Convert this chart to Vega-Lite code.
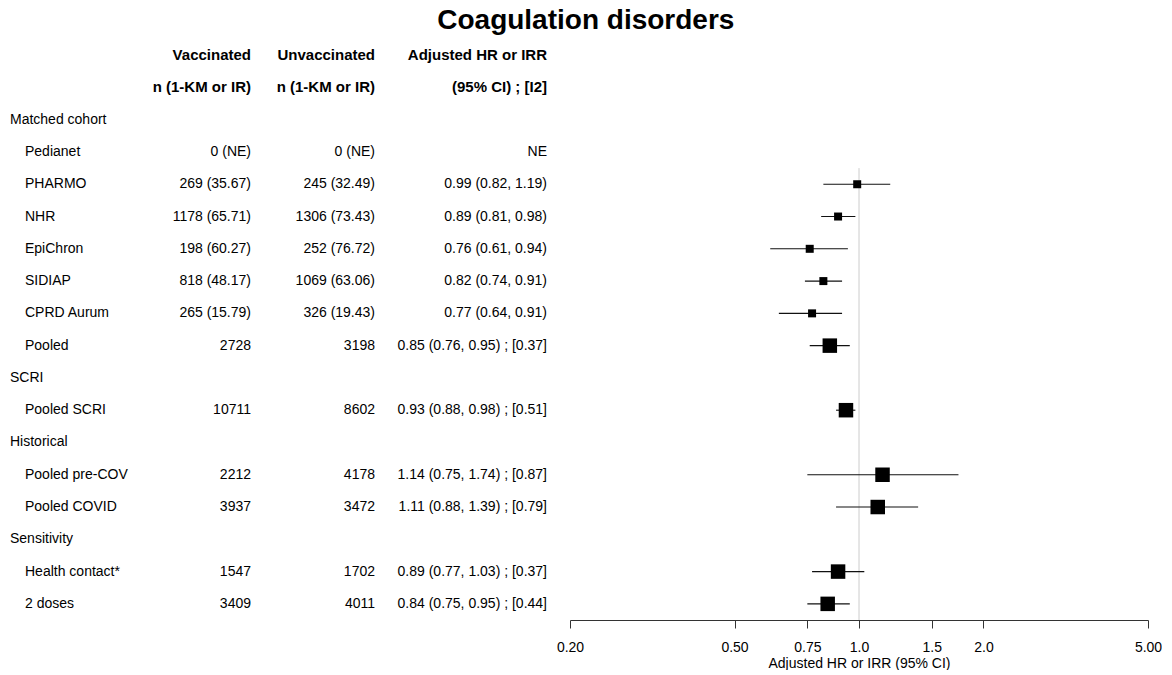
{
  "$schema": "https://vega.github.io/schema/vega-lite/v6.json",
  "title": {
    "text": "Coagulation disorders",
    "fontSize": 28,
    "fontWeight": "bold",
    "font": "Liberation Sans",
    "color": "#000000",
    "anchor": "middle",
    "offset": 4
  },
  "padding": {"left": 10, "top": 7, "right": 0, "bottom": 0},
  "background": "#ffffff",
  "bounds": "flush",
  "spacing": 0,
  "config": {
    "view": {"stroke": null},
    "font": "Liberation Sans",
    "text": {"font": "Liberation Sans", "fontSize": 14, "color": "#000000", "baseline": "middle"}
  },
  "datasets": {
    "rows": [
      {"row": 0, "label": null, "level": "header", "vacc": "Vaccinated", "unvacc": "Unvaccinated", "est": "Adjusted HR or IRR", "hr": null, "lo": null, "hi": null, "kind": null},
      {"row": 1, "label": null, "level": "header", "vacc": "n (1-KM or IR)", "unvacc": "n (1-KM or IR)", "est": "(95% CI) ; [I2]", "hr": null, "lo": null, "hi": null, "kind": null},
      {"row": 2, "label": "Matched cohort", "level": "section", "vacc": null, "unvacc": null, "est": null, "hr": null, "lo": null, "hi": null, "kind": null},
      {"row": 3, "label": "Pedianet", "level": "item", "vacc": "0 (NE)", "unvacc": "0 (NE)", "est": "NE", "hr": null, "lo": null, "hi": null, "kind": "study"},
      {"row": 4, "label": "PHARMO", "level": "item", "vacc": "269 (35.67)", "unvacc": "245 (32.49)", "est": "0.99 (0.82, 1.19)", "hr": 0.99, "lo": 0.82, "hi": 1.19, "kind": "study"},
      {"row": 5, "label": "NHR", "level": "item", "vacc": "1178 (65.71)", "unvacc": "1306 (73.43)", "est": "0.89 (0.81, 0.98)", "hr": 0.89, "lo": 0.81, "hi": 0.98, "kind": "study"},
      {"row": 6, "label": "EpiChron", "level": "item", "vacc": "198 (60.27)", "unvacc": "252 (76.72)", "est": "0.76 (0.61, 0.94)", "hr": 0.76, "lo": 0.61, "hi": 0.94, "kind": "study"},
      {"row": 7, "label": "SIDIAP", "level": "item", "vacc": "818 (48.17)", "unvacc": "1069 (63.06)", "est": "0.82 (0.74, 0.91)", "hr": 0.82, "lo": 0.74, "hi": 0.91, "kind": "study"},
      {"row": 8, "label": "CPRD Aurum", "level": "item", "vacc": "265 (15.79)", "unvacc": "326 (19.43)", "est": "0.77 (0.64, 0.91)", "hr": 0.77, "lo": 0.64, "hi": 0.91, "kind": "study"},
      {"row": 9, "label": "Pooled", "level": "item", "vacc": "2728", "unvacc": "3198", "est": "0.85 (0.76, 0.95) ; [0.37]", "hr": 0.85, "lo": 0.76, "hi": 0.95, "kind": "pooled"},
      {"row": 10, "label": "SCRI", "level": "section", "vacc": null, "unvacc": null, "est": null, "hr": null, "lo": null, "hi": null, "kind": null},
      {"row": 11, "label": "Pooled SCRI", "level": "item", "vacc": "10711", "unvacc": "8602", "est": "0.93 (0.88, 0.98) ; [0.51]", "hr": 0.93, "lo": 0.88, "hi": 0.98, "kind": "pooled"},
      {"row": 12, "label": "Historical", "level": "section", "vacc": null, "unvacc": null, "est": null, "hr": null, "lo": null, "hi": null, "kind": null},
      {"row": 13, "label": "Pooled pre-COV", "level": "item", "vacc": "2212", "unvacc": "4178", "est": "1.14 (0.75, 1.74) ; [0.87]", "hr": 1.14, "lo": 0.75, "hi": 1.74, "kind": "pooled"},
      {"row": 14, "label": "Pooled COVID", "level": "item", "vacc": "3937", "unvacc": "3472", "est": "1.11 (0.88, 1.39) ; [0.79]", "hr": 1.11, "lo": 0.88, "hi": 1.39, "kind": "pooled"},
      {"row": 15, "label": "Sensitivity", "level": "section", "vacc": null, "unvacc": null, "est": null, "hr": null, "lo": null, "hi": null, "kind": null},
      {"row": 16, "label": "Health contact*", "level": "item", "vacc": "1547", "unvacc": "1702", "est": "0.89 (0.77, 1.03) ; [0.37]", "hr": 0.89, "lo": 0.77, "hi": 1.03, "kind": "pooled"},
      {"row": 17, "label": "2 doses", "level": "item", "vacc": "3409", "unvacc": "4011", "est": "0.84 (0.75, 0.95) ; [0.44]", "hr": 0.84, "lo": 0.75, "hi": 0.95, "kind": "pooled"}
    ],
    "nullLine": [
      {"ratio": 1, "fromRow": 3.5, "toRow": 17.5}
    ]
  },
  "hconcat": [
    {
      "width": 130,
      "height": 581,
      "data": {"name": "rows"},
      "encoding": {
        "y": {"field": "row", "type": "quantitative", "axis": null,
              "scale": {"domain": [-0.5, 17.5], "reverse": true, "nice": false, "zero": false}},
        "x": {"datum": 0, "type": "quantitative", "axis": null, "scale": {"domain": [0, 1]}},
        "text": {"field": "label", "type": "nominal"}
      },
      "layer": [
        {"transform": [{"filter": "datum.level == 'section'"}],
         "mark": {"type": "text", "align": "left"}},
        {"transform": [{"filter": "datum.level == 'item'"}],
         "mark": {"type": "text", "align": "left", "dx": 15}}
      ]
    },
    {
      "width": 111,
      "height": 581,
      "data": {"name": "rows"},
      "transform": [{"filter": "isValid(datum.vacc)"}],
      "encoding": {
        "y": {"field": "row", "type": "quantitative", "axis": null,
              "scale": {"domain": [-0.5, 17.5], "reverse": true, "nice": false, "zero": false}},
        "x": {"datum": 1, "type": "quantitative", "axis": null, "scale": {"domain": [0, 1]}},
        "text": {"field": "vacc", "type": "nominal"}
      },
      "layer": [
        {"transform": [{"filter": "datum.level == 'header'"}],
         "mark": {"type": "text", "align": "right", "fontWeight": "bold", "fontSize": 15}},
        {"transform": [{"filter": "datum.level != 'header'"}],
         "mark": {"type": "text", "align": "right"}}
      ]
    },
    {
      "width": 124,
      "height": 581,
      "data": {"name": "rows"},
      "transform": [{"filter": "isValid(datum.unvacc)"}],
      "encoding": {
        "y": {"field": "row", "type": "quantitative", "axis": null,
              "scale": {"domain": [-0.5, 17.5], "reverse": true, "nice": false, "zero": false}},
        "x": {"datum": 1, "type": "quantitative", "axis": null, "scale": {"domain": [0, 1]}},
        "text": {"field": "unvacc", "type": "nominal"}
      },
      "layer": [
        {"transform": [{"filter": "datum.level == 'header'"}],
         "mark": {"type": "text", "align": "right", "fontWeight": "bold", "fontSize": 15}},
        {"transform": [{"filter": "datum.level != 'header'"}],
         "mark": {"type": "text", "align": "right"}}
      ]
    },
    {
      "width": 195,
      "height": 581,
      "data": {"name": "rows"},
      "transform": [{"filter": "isValid(datum.est)"}],
      "encoding": {
        "y": {"field": "row", "type": "quantitative", "axis": null,
              "scale": {"domain": [-0.5, 17.5], "reverse": true, "nice": false, "zero": false}},
        "x": {"datum": 1, "type": "quantitative", "axis": null, "scale": {"domain": [0, 1]}},
        "text": {"field": "est", "type": "nominal"}
      },
      "layer": [
        {"transform": [{"filter": "datum.level == 'header'"}],
         "mark": {"type": "text", "align": "right", "fontWeight": "bold", "fontSize": 15, "dx": -23}},
        {"transform": [{"filter": "datum.level != 'header'"}],
         "mark": {"type": "text", "align": "right", "dx": -23}}
      ]
    },
    {
      "width": 578,
      "height": 581,
      "layer": [
        {
          "data": {"name": "nullLine"},
          "mark": {"type": "rule", "color": "#cccccc", "strokeWidth": 1},
          "encoding": {
            "x": {"field": "ratio", "type": "quantitative"},
            "y": {"field": "fromRow", "type": "quantitative"},
            "y2": {"field": "toRow"}
          }
        },
        {
          "data": {"name": "rows"},
          "transform": [{"filter": "isValid(datum.hr)"}],
          "mark": {"type": "rule", "color": "#111111", "strokeWidth": 1.1},
          "encoding": {
            "x": {"field": "lo", "type": "quantitative"},
            "x2": {"field": "hi"},
            "y": {"field": "row", "type": "quantitative"}
          }
        },
        {
          "data": {"name": "rows"},
          "transform": [{"filter": "isValid(datum.hr)"}],
          "mark": {"type": "point", "shape": "square", "filled": true, "color": "#000000", "opacity": 1},
          "encoding": {
            "x": {"field": "hr", "type": "quantitative"},
            "y": {"field": "row", "type": "quantitative"},
            "size": {"field": "kind", "type": "nominal", "legend": null,
                     "scale": {"domain": ["study", "pooled"], "range": [64, 210]}}
          }
        }
      ],
      "resolve": {"scale": {"x": "shared", "y": "shared"}},
      "encoding": {
        "x": {
          "type": "quantitative",
          "scale": {"type": "log", "domain": [0.2, 5], "nice": false},
          "axis": {
            "title": "Adjusted HR or IRR (95% CI)",
            "values": [0.2, 0.5, 0.75, 1, 1.5, 2, 5],
            "labelExpr": "datum.value == 0.2 ? '0.20' : datum.value == 0.5 ? '0.50' : datum.value == 0.75 ? '0.75' : datum.value == 5 ? '5.00' : format(datum.value, '.1f')",
            "grid": false,
            "domainColor": "#333333",
            "tickColor": "#333333",
            "tickSize": 8,
            "labelPadding": 12,
            "labelFlush": false,
            "labelOverlap": false,
            "labelFont": "Liberation Sans",
            "labelFontSize": 14,
            "labelColor": "#000000",
            "titleFont": "Liberation Sans",
            "titleFontSize": 14,
            "titleFontWeight": "normal",
            "titleColor": "#000000",
            "titlePadding": 2
          }
        },
        "y": {
          "type": "quantitative",
          "axis": null,
          "scale": {"domain": [-0.5, 17.5], "reverse": true, "nice": false, "zero": false}
        }
      }
    }
  ]
}
